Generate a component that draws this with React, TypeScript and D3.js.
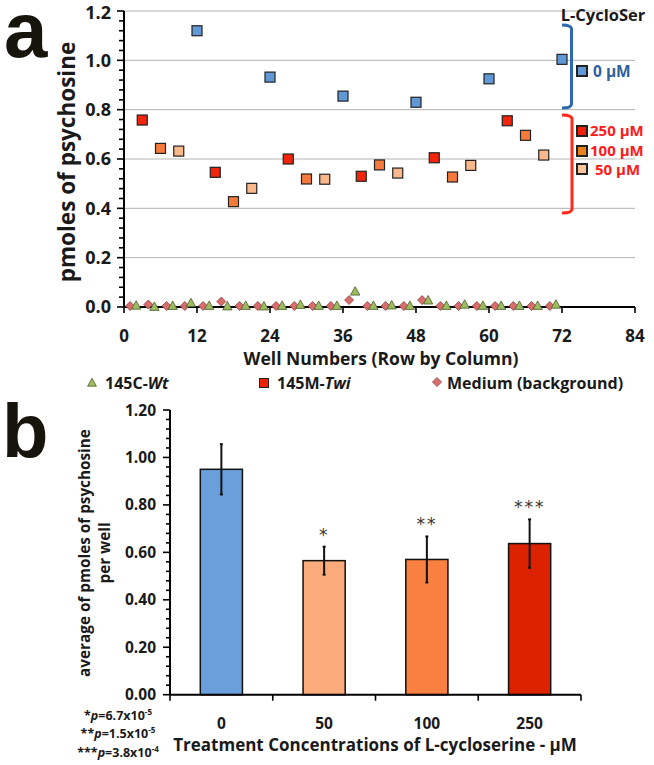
import React from 'react';
import * as d3 from 'd3';

const FONT = "'Open Sans', Lato, sans-serif";
const HEAVY = "'Liberation Sans', Arial, sans-serif";
const INK = '#1a1a1a';

// ---------- Panel a data ----------
const wellTicks = [0, 12, 24, 36, 48, 60, 72, 84];
const yTicksA = [0, 0.2, 0.4, 0.6, 0.8, 1.0, 1.2];

const wells0uM = [12, 24, 36, 48, 60, 72];
const vals0uM = [1.12, 0.932, 0.855, 0.83, 0.925, 1.004];
const wells250uM = [3, 15, 27, 39, 51, 63];
const vals250uM = [0.758, 0.546, 0.6, 0.53, 0.605, 0.755];
const wells100uM = [6, 18, 30, 42, 54, 66];
const vals100uM = [0.643, 0.427, 0.519, 0.576, 0.527, 0.696];
const wells50uM = [9, 21, 33, 45, 57, 69];
const vals50uM = [0.632, 0.481, 0.518, 0.543, 0.574, 0.616];

const wellsWt = [2, 5, 8, 11, 14, 17, 20, 23, 26, 29, 32, 35, 38, 41, 44, 47, 50, 53, 56, 59, 62, 65, 68, 71];
const valsWt = [0.005, 0.0, 0.004, 0.015, 0.004, 0.002, 0.004, 0.002, 0.004, 0.008, 0.004, 0.004, 0.062, 0.004, 0.006, 0.004, 0.026, 0.004, 0.009, 0.004, 0.004, 0.004, 0.004, 0.009];
const wellsMed = [1, 4, 7, 10, 13, 16, 19, 22, 25, 28, 31, 34, 37, 40, 43, 46, 49, 52, 55, 58, 61, 64, 67, 70];
const valsMed = [0.004, 0.01, 0.004, 0.004, 0.004, 0.022, 0.004, 0.004, 0.004, 0.004, 0.004, 0.004, 0.028, 0.004, 0.004, 0.004, 0.028, 0.004, 0.004, 0.004, 0.004, 0.004, 0.004, 0.004];

const concLegend = ['0 μM', '250 μM', '100 μM', '50 μM'];

// ---------- Panel b data ----------
const concLabels = ['0', '50', '100', '250'];
const barMeans = [0.95, 0.565, 0.57, 0.637];
const barErrs = [0.106, 0.059, 0.097, 0.102];
const barStars = ['', '*', '**', '***'];
const yTicksB = [0, 0.2, 0.4, 0.6, 0.8, 1.0, 1.2];
const pStars = ['*', '**', '***'];
const pMantissa = ['6.7', '1.5', '3.8'];
const pExponent = ['-5', '-5', '-4'];

const C_BLUE = '#6198d6';
const C_RED = '#f2240c';
const C_ORANGE = '#f57a3c';
const C_LIGHT = '#f9b88c';
const C_TRI = '#9dbb61';
const C_DIA = '#d96c6c';
const BAR_COLORS = ['#69a0dc', '#fbab7b', '#f98040', '#dd2200'];

export default function App() {
  // scales panel a
  const xA = d3.scaleLinear().domain([0, 84]).range([124, 635]);
  const yA = d3.scaleLinear().domain([0, 1.2]).range([307, 11]);
  const minorA = d3.range(0, 1.2001, 0.04);

  // scales panel b
  const xB = d3.scaleBand<string>().domain(concLabels).range([170, 581]).paddingInner(0.59).paddingOuter(0.295);
  const yB = d3.scaleLinear().domain([0, 1.2]).range([694.7, 410]);
  const minorB = d3.range(0, 1.2001, 0.04);
  const step = xB.step();

  const sq = (x: number, y: number, fill: string, s = 10, key?: any, sw = 1.2) => (
    <rect key={key} x={x - s / 2} y={y - s / 2} width={s} height={s} fill={fill} stroke="#222" strokeWidth={sw} />
  );
  const tri = (x: number, y: number, s = 8, key?: any) => (
    <path key={key} d={`M${x},${y - s * 0.6} L${x + s * 0.55},${y + s * 0.4} L${x - s * 0.55},${y + s * 0.4} Z`} fill={C_TRI} stroke="#4b5e2a" strokeWidth={0.8} />
  );
  const dia = (x: number, y: number, s = 9, key?: any) => (
    <path key={key} d={`M${x},${y - s / 2} L${x + s / 2},${y} L${x},${y + s / 2} L${x - s / 2},${y} Z`} fill={C_DIA} stroke="#8c3f3f" strokeWidth={0.8} />
  );

  const squareSeries = [
    { wells: wells250uM, vals: vals250uM, color: C_RED },
    { wells: wells100uM, vals: vals100uM, color: C_ORANGE },
    { wells: wells50uM, vals: vals50uM, color: C_LIGHT },
    { wells: wells0uM, vals: vals0uM, color: C_BLUE },
  ];

  return (
    <svg width={654} height={765} style={{ position: 'absolute', left: 0, top: 0, background: '#fff' }} fontFamily={FONT}>
      <rect x={0} y={0} width={654} height={765} fill="#fff" />
      {/* ===== Panel a ===== */}
      <text x={4} y={57} fontFamily={HEAVY} fontWeight={700} fontSize={78} fill="#15150c">a</text>
      {/* gridlines */}
      {yTicksA.filter(t => t > 0).map(t => (
        <line key={'g' + t} x1={xA(0)} x2={xA(84)} y1={yA(t)} y2={yA(t)} stroke="#b4b4b4" strokeWidth={1} />
      ))}
      {/* y axis */}
      <line x1={xA(0)} x2={xA(0)} y1={yA(0)} y2={yA(1.2)} stroke="#000" strokeWidth={2} />
      {minorA.map((t, i) => (
        <line key={'ma' + i} x1={xA(0) - (i % 5 === 0 ? 7 : 5)} x2={xA(0)} y1={yA(t)} y2={yA(t)} stroke="#000" strokeWidth={1.6} />
      ))}
      {yTicksA.map(t => (
        <text key={'ya' + t} x={111} y={Math.max(yA(t), 13)} dy="0.36em" textAnchor="end" fontWeight={700} fontSize={18} fill={INK}>{t.toFixed(1)}</text>
      ))}
      <text transform={`translate(75,${162}) rotate(-90)`} textAnchor="middle" fontWeight={700} fontSize={22.5} fill={INK}>pmoles of psychosine</text>
      {/* x axis */}
      <line x1={xA(0)} x2={xA(84)} y1={yA(0)} y2={yA(0)} stroke="#000" strokeWidth={2} />
      {wellTicks.map(t => (
        <g key={'xa' + t}>
          <line x1={xA(t)} x2={xA(t)} y1={yA(0)} y2={yA(0) + 6} stroke="#000" strokeWidth={1.6} />
          <text x={xA(t)} y={336} dy="0.36em" textAnchor="middle" fontWeight={700} fontSize={17} fill={INK}>{t}</text>
        </g>
      ))}
      <text x={381} y={359} dy="0.36em" textAnchor="middle" fontWeight={700} fontSize={17.5} fill={INK}>Well Numbers (Row by Column)</text>

      {/* background points */}
      {wellsMed.map((w, i) => dia(xA(w), yA(valsMed[i]), 9, 'd' + i))}
      {wellsWt.map((w, i) => tri(xA(w), yA(valsWt[i]), 8.5, 't' + i))}
      {/* treatment squares */}
      {squareSeries.map((s, si) => s.wells.map((w, i) => sq(xA(w), yA(s.vals[i]), s.color, 10, `s${si}-${i}`)))}

      {/* right legend */}
      <text x={603} y={15} dy="0.36em" textAnchor="middle" fontWeight={700} fontSize={16.5} fill={INK}>L-CycloSer</text>
      <path d="M562,25 Q571.5,25 571.5,29 L571.5,104 Q571.5,108 562,108" fill="none" stroke="#2e6aab" strokeWidth={3} />
      <path d="M562,115 Q572,115 572,119 L572,209 Q572,213 562,213" fill="none" stroke="#ff2a1a" strokeWidth={3} />
      {sq(582, 71, C_BLUE, 10, 'l0', 2)}
      <text x={593} y={71} dy="0.36em" fontWeight={700} fontSize={15.5} fill="#2f5f9f">{concLegend[0]}</text>
      {sq(582, 131, '#f2200a', 10, 'l1', 2)}
      <text x={590} y={131} dy="0.36em" fontWeight={700} fontSize={15} fill="#ff1a1a">{concLegend[1]}</text>
      {sq(582, 151, '#e8801e', 10, 'l2', 2)}
      <text x={590} y={151} dy="0.36em" fontWeight={700} fontSize={15} fill="#ff1a1a">{concLegend[2]}</text>
      {sq(582, 169, '#f9c39e', 10, 'l3', 2)}
      <text x={595} y={170} dy="0.36em" fontWeight={700} fontSize={15} fill="#ff1a1a">{concLegend[3]}</text>

      {/* bottom legend */}
      {tri(92, 383, 8, 'lt')}
      <text x={105} y={383} dy="0.36em" fontWeight={700} fontSize={16} fill={INK}>145C-<tspan fontStyle="italic">Wt</tspan></text>
      {sq(264, 383, C_RED, 9, 'lr', 1)}
      <text x={277} y={383} dy="0.36em" fontWeight={700} fontSize={16} fill={INK}>145M-<tspan fontStyle="italic">Twi</tspan></text>
      {dia(437, 382, 9, 'ld')}
      <text x={447} y={383} dy="0.36em" fontWeight={700} fontSize={16} fill={INK}>Medium (background)</text>

      {/* ===== Panel b ===== */}
      <text x={2} y={457} fontFamily={HEAVY} fontWeight={700} fontSize={76} fill="#15150c">b</text>
      {/* bars */}
      {concLabels.map((c, i) => (
        <rect key={'b' + c} x={xB(c)!} y={yB(barMeans[i])} width={xB.bandwidth()} height={yB(0) - yB(barMeans[i])} fill={BAR_COLORS[i]} stroke="#111" strokeWidth={1.5} />
      ))}
      {/* error bars */}
      {concLabels.map((c, i) => {
        const cx = xB(c)! + xB.bandwidth() / 2;
        return (
          <g key={'e' + c}>
            <line x1={cx} x2={cx} y1={yB(barMeans[i] + barErrs[i])} y2={yB(barMeans[i] - barErrs[i])} stroke="#111" strokeWidth={2} />
            <line x1={cx - 1.5} x2={cx + 1.5} y1={yB(barMeans[i] + barErrs[i])} y2={yB(barMeans[i] + barErrs[i])} stroke="#111" strokeWidth={2} />
            <line x1={cx - 1.5} x2={cx + 1.5} y1={yB(barMeans[i] - barErrs[i])} y2={yB(barMeans[i] - barErrs[i])} stroke="#111" strokeWidth={2} />
            {barStars[i] && (
              <text x={cx} y={yB(barMeans[i] + barErrs[i]) - 6} textAnchor="middle" fontFamily="'DejaVu Sans', sans-serif" fontSize={17} letterSpacing={2} fill="#333">{barStars[i]}</text>
            )}
          </g>
        );
      })}
      {/* y axis */}
      <line x1={170} x2={170} y1={yB(0)} y2={yB(1.2)} stroke="#000" strokeWidth={2} />
      {minorB.map((t, i) => (
        <line key={'mb' + i} x1={170 - (i % 5 === 0 ? 7 : 4)} x2={170} y1={yB(t)} y2={yB(t)} stroke="#000" strokeWidth={1.6} />
      ))}
      {yTicksB.map(t => (
        <text key={'yb' + t} x={156} y={yB(t)} dy="0.36em" textAnchor="end" fontWeight={700} fontSize={15.5} fill={INK}>{t.toFixed(2)}</text>
      ))}
      <text transform={`translate(90,553) rotate(-90)`} textAnchor="middle" fontWeight={700} fontSize={15.3} fill={INK}>average of pmoles of psychosine</text>
      <text transform={`translate(110,553) rotate(-90)`} textAnchor="middle" fontWeight={700} fontSize={15.3} fill={INK}>per well</text>
      {/* x axis */}
      <line x1={170} x2={581} y1={yB(0)} y2={yB(0)} stroke="#000" strokeWidth={2} />
      {d3.range(0, concLabels.length + 1).map(i => (
        <line key={'xt' + i} x1={170 + i * step} x2={170 + i * step} y1={yB(0)} y2={yB(0) + 6} stroke="#000" strokeWidth={1.6} />
      ))}
      {concLabels.map(c => (
        <text key={'xl' + c} x={xB(c)! + xB.bandwidth() / 2} y={723} dy="0.36em" textAnchor="middle" fontWeight={700} fontSize={15.5} fill={INK}>{c}</text>
      ))}
      <text x={375} y={745} dy="0.36em" textAnchor="middle" fontWeight={700} fontSize={17} fill={INK}>Treatment Concentrations of L-cycloserine - μM</text>
      {/* p-values */}
      {pStars.map((s, i) => (
        <text key={'p' + i} x={118} y={715 + i * 18.5} dy="0.36em" textAnchor="middle" fontWeight={700} fontSize={12.5} fill={INK}>
          {s}<tspan fontStyle="italic">p</tspan>={pMantissa[i]}x10<tspan fontSize={8} dy="-5">{pExponent[i]}</tspan>
        </text>
      ))}
    </svg>
  );
}
